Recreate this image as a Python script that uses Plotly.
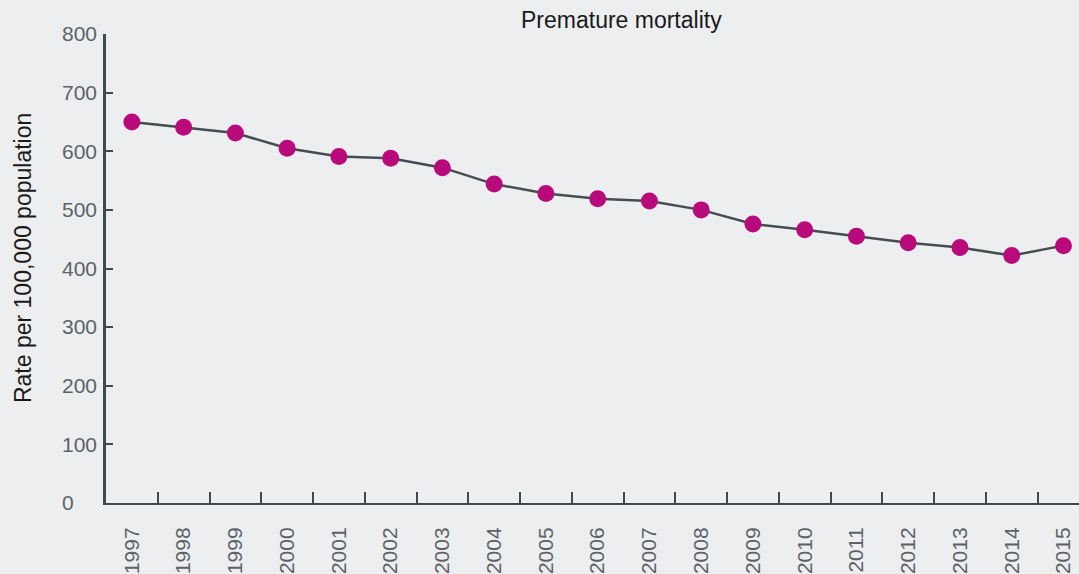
"""Premature mortality line chart."""

import plotly.graph_objects as go

years = [str(y) for y in range(1997, 2016)]
rates = [650, 641, 631, 605, 591, 588, 572, 544, 528, 519,
         515, 500, 476, 466, 455, 444, 436, 422, 439]
y_ticks = [0, 100, 200, 300, 400, 500, 600, 700, 800]
# labels are left aligned in the original, so pad the single digit one
y_tick_text = ['0\u2007\u2007', '100', '200', '300', '400', '500', '600', '700', '800']

AXIS = '#3f4a50'
TICK_TEXT = '#5c6368'
MAGENTA = '#b90a7c'
BG = '#edeef0'
FONT = 'Liberation Sans'

fig = go.Figure(go.Scatter(
    x=years,
    y=rates,
    mode='lines+markers',
    line=dict(color='#434d52', width=2.5),
    marker=dict(color=MAGENTA, size=17),
    hovertemplate="%{x}: %{y}<extra></extra>",
))

fig.update_layout(
    width=1079,
    height=574,
    margin=dict(l=106, r=0, t=34, b=68),
    paper_bgcolor=BG,
    plot_bgcolor=BG,
    showlegend=False,
    font=dict(family=FONT, color=TICK_TEXT),
    xaxis=dict(
        type='category',
        range=[-0.5, 18.3],
        showgrid=False,
        showline=True,
        linecolor=AXIS,
        linewidth=2,
        ticks='inside',
        tickson='boundaries',
        ticklen=11,
        tickcolor=AXIS,
        tickwidth=1.5,
        tickangle=-90,
        tickfont=dict(size=21, color=TICK_TEXT),
        ticklabelstandoff=14,
    ),
    yaxis=dict(
        range=[0, 800],
        tickvals=y_ticks,
        ticktext=y_tick_text,
        showgrid=False,
        zeroline=False,
        showline=True,
        linecolor=AXIS,
        linewidth=2.5,
        ticks='inside',
        ticklen=7,
        tickcolor=AXIS,
        tickwidth=1.5,
        tickfont=dict(size=21, color=TICK_TEXT),
        ticklabelstandoff=2,
    ),
)

fig.add_annotation(
    text="Premature mortality",
    xref='paper', yref='paper',
    x=0.53, y=1.03,
    xanchor='center', yanchor='middle',
    showarrow=False,
    font=dict(size=23, color='#1a1a1a', family=FONT),
)

fig.add_annotation(
    text="Rate per 100,000 population",
    xref='paper', yref='paper',
    x=-0.086, y=0.523,
    xanchor='center', yanchor='middle',
    textangle=-90,
    showarrow=False,
    font=dict(size=23, color='#1a1a1a', family=FONT),
)

fig.write_html(
    "out.html",
    config={'displayModeBar': False},
    post_script="document.body.style.margin='0';",
)
